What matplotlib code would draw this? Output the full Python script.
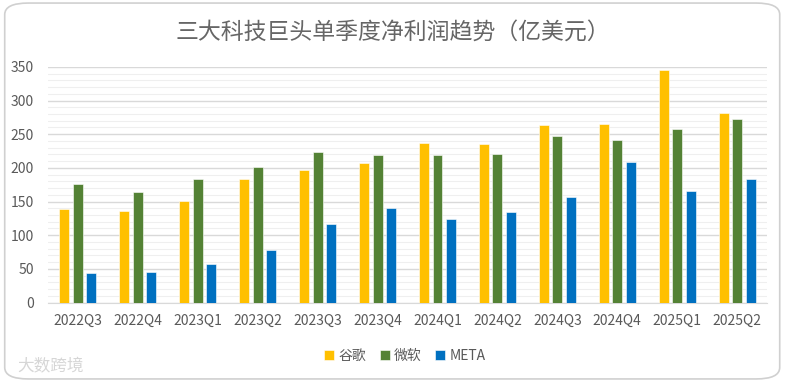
import numpy as np
import matplotlib
matplotlib.use('Agg')
import matplotlib.pyplot as plt
from matplotlib.patches import FancyBboxPatch

plt.rcParams['font.family'] = ['Noto Sans CJK SC', 'DejaVu Sans']

# 数据（亿美元）
quarters = ['2022Q3', '2022Q4', '2023Q1', '2023Q2', '2023Q3', '2023Q4',
            '2024Q1', '2024Q2', '2024Q3', '2024Q4', '2025Q1', '2025Q2']
google = [139, 136, 151, 184, 197, 207, 237, 236, 263, 265, 345, 282]
microsoft = [176, 164, 183, 201, 223, 219, 219, 220, 247, 241, 258, 272]
meta = [44, 46, 57, 78, 116, 140, 124, 135, 157, 208, 166, 183]
series_names = ['谷歌', '微软', 'META']
colors = ['#FFC000', '#548235', '#0070C0']

fig = plt.figure(figsize=(7.86, 3.82), dpi=100)
ax = fig.add_axes([0.061, 0.208, 0.915, 0.617])

# 外框圆角
border = FancyBboxPatch((0.006, 0.008), 0.986, 0.984,
                        boxstyle='round,pad=0,rounding_size=0.03',
                        transform=fig.transFigure, facecolor='none',
                        edgecolor='#D0D0D0', linewidth=1.2, zorder=-1)
fig.patches.append(border)

x = np.arange(len(quarters))
w = 0.165
off = 0.225
for i, (vals, name) in enumerate(zip([google, microsoft, meta], series_names)):
    ax.bar(x + (i - 1) * off, vals, width=w, color=colors[i], label=name,
           edgecolor='white', linewidth=0.4, zorder=3)

ax.set_xlim(-0.5, len(quarters) - 0.5)
ax.set_ylim(0, 350)
ax.set_yticks(np.arange(0, 351, 50))
ax.set_yticks(np.arange(0, 351, 10), minor=True)
ax.grid(axis='y', which='major', color='#D9D9D9', linewidth=1.0, zorder=0)
ax.grid(axis='y', which='minor', color='#EFEFEF', linewidth=0.8, zorder=0)
ax.set_xticks(x)
ax.set_xticklabels(quarters)
ax.tick_params(axis='both', which='both', length=0, colors='#595959', labelsize=10)
ax.tick_params(axis='x', pad=8)
ax.tick_params(axis='y', pad=10)
for s in ['top', 'right', 'left']:
    ax.spines[s].set_visible(False)
ax.spines['bottom'].set_color('#D9D9D9')

fig.text(0.5, 0.915, '三大科技巨头单季度净利润趋势（亿美元）', ha='center', va='center',
         fontsize=16.5, color='#666666', fontweight='light')

leg = fig.legend(loc='center', bbox_to_anchor=(0.515, 0.068), ncol=3, frameon=False,
                 fontsize=10, handlelength=0.7, handleheight=0.7, handletextpad=0.3,
                 columnspacing=1.0)
for t in leg.get_texts():
    t.set_color('#595959')

# 水印
fig.text(0.022, 0.04, '大数跨境', fontsize=12, color='#CCCCCC', alpha=0.8,
         ha='left', va='center')

fig.savefig('out.png', dpi=100)
